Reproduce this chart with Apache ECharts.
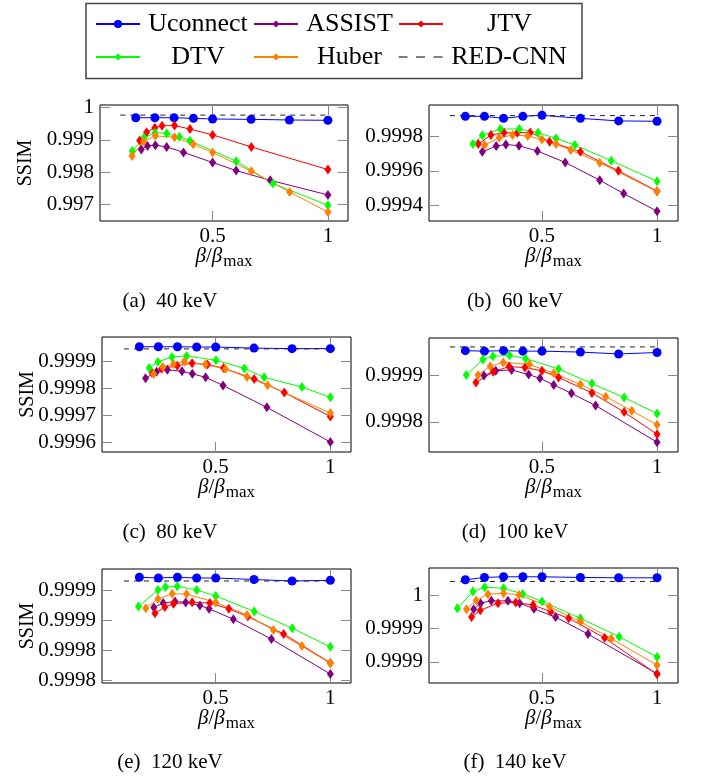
<!DOCTYPE html>
<html>
<head>
<meta charset="utf-8">
<script src="https://cdn.jsdelivr.net/npm/echarts@6/dist/echarts.min.js"></script>
<style>
  html, body { margin: 0; padding: 0; background: #fff; }
  #chart { width: 701px; height: 778px; }
</style>
</head>
<body>
<div id="chart"></div>
<script>
// ---- data ----
const xUconnect = [0.167, 0.25, 0.333, 0.417, 0.5, 0.667, 0.833, 1];
const xRedCnn = [0.1, 1];

// (a) 40 keV
const uconnect40 = [0.99968, 0.99968, 0.99968, 0.99966, 0.99964, 0.99963, 0.99961, 0.99960];
const redcnn40 = 0.99976;
const assist40 = [[0.191, 0.99870], [0.218, 0.99881], [0.252, 0.99883], [0.301, 0.99878], [0.374, 0.99861], [0.5, 0.99830], [0.602, 0.99805], [0.75, 0.99775], [1, 0.99730]];
const jtv40 = [[0.184, 0.99898], [0.214, 0.99923], [0.25, 0.99937], [0.281, 0.99943], [0.335, 0.99944], [0.402, 0.99933], [0.5, 0.99915], [0.668, 0.99878], [1, 0.99808]];
const dtv40 = [[0.152, 0.99865], [0.203, 0.99906], [0.25, 0.99922], [0.301, 0.99919], [0.356, 0.99909], [0.402, 0.99897], [0.602, 0.99834], [0.762, 0.99765], [1, 0.99698]];
const huber40 = [[0.151, 0.99850], [0.201, 0.99895], [0.252, 0.99912], [0.335, 0.99908], [0.416, 0.99886], [0.5, 0.99861], [0.668, 0.99803], [0.834, 0.99739], [1, 0.99677]];

// (b) 60 keV
const uconnect60 = [0.999919, 0.999919, 0.999907, 0.999919, 0.999925, 0.999907, 0.999892, 0.99989];
const redcnn60 = 0.999923;
const assist60 = [[0.241, 0.999712], [0.301, 0.999745], [0.343, 0.999755], [0.4, 0.999747], [0.48, 0.999716], [0.601, 0.99965], [0.751, 0.999546], [0.855, 0.999468], [1, 0.999365]];
const jtv60 = [[0.223, 0.999757], [0.278, 0.99981], [0.335, 0.999823], [0.393, 0.999823], [0.449, 0.999825], [0.533, 0.999771], [0.667, 0.999712], [0.832, 0.999601], [1, 0.999482]];
const dtv60 = [[0.2, 0.999757], [0.241, 0.999808], [0.319, 0.999845], [0.401, 0.999845], [0.483, 0.999823], [0.561, 0.99979], [0.643, 0.999751], [0.801, 0.99966], [1, 0.99954]];
const huber60 = [[0.251, 0.999751], [0.314, 0.999794], [0.372, 0.99981], [0.438, 0.999804], [0.5, 0.999784], [0.561, 0.999757], [0.625, 0.999722], [0.751, 0.999648], [1, 0.99948]];

// (c) 80 keV
const uconnect80 = [0.999954, 0.999954, 0.999954, 0.999953, 0.999953, 0.999949, 0.999947, 0.999947];
const redcnn80 = 0.999946;
const assist80 = [[0.194, 0.999838], [0.242, 0.999862], [0.289, 0.999869], [0.353, 0.999863], [0.398, 0.999854], [0.456, 0.999841], [0.532, 0.999811], [0.723, 0.99973], [1, 0.999602]];
const jtv80 = [[0.222, 0.999858], [0.264, 0.999873], [0.332, 0.999884], [0.397, 0.999893], [0.464, 0.999888], [0.534, 0.999875], [0.668, 0.999835], [0.799, 0.999785], [1, 0.999696]];
const dtv80 = [[0.21, 0.999875], [0.248, 0.999898], [0.309, 0.999916], [0.373, 0.99992], [0.501, 0.999904], [0.625, 0.999874], [0.711, 0.999841], [0.876, 0.999805], [1, 0.999767]];
const huber80 = [[0.229, 0.999853], [0.27, 0.999879], [0.316, 0.99989], [0.363, 0.999899], [0.455, 0.999888], [0.542, 0.999872], [0.636, 0.999842], [0.726, 0.999812], [1, 0.999709]];

// (d) 100 keV
const uconnect100 = [0.999952, 0.999951, 0.999952, 0.999951, 0.999951, 0.999949, 0.999945, 0.999948];
const redcnn100 = 0.99996;
const assist100 = [[0.248, 0.999899], [0.299, 0.999909], [0.368, 0.999911], [0.442, 0.999901], [0.491, 0.999893], [0.551, 0.999879], [0.628, 0.999861], [0.733, 0.999835], [1, 0.999757]];
const jtv100 = [[0.213, 0.999884], [0.288, 0.999907], [0.357, 0.999918], [0.426, 0.999916], [0.5, 0.999909], [0.572, 0.999895], [0.717, 0.999862], [0.857, 0.999821], [1, 0.999774]];
const dtv100 = [[0.171, 0.9999], [0.243, 0.999933], [0.287, 0.99994], [0.359, 0.999942], [0.429, 0.999935], [0.572, 0.999913], [0.717, 0.999882], [0.857, 0.999852], [1, 0.999818]];
const huber100 = [[0.222, 0.9999], [0.275, 0.999919], [0.332, 0.999927], [0.445, 0.999923], [0.551, 0.999904], [0.667, 0.99988], [0.777, 0.999854], [0.89, 0.999824], [1, 0.999794]];

// (e) 120 keV
const uconnect120 = [0.9998885, 0.999888, 0.9998885, 0.999888, 0.999888, 0.999887, 0.999886, 0.9998865];
const redcnn120 = 0.999886;
const assist120 = [[0.23, 0.9998684], [0.271, 0.9998713], [0.322, 0.9998724], [0.369, 0.9998717], [0.431, 0.9998697], [0.471, 0.9998675], [0.577, 0.9998605], [0.743, 0.9998473], [1, 0.999824]];
const jtv120 = [[0.235, 0.9998645], [0.278, 0.9998686], [0.316, 0.9998708], [0.397, 0.9998719], [0.474, 0.9998713], [0.557, 0.9998675], [0.64, 0.9998623], [0.796, 0.9998507], [1, 0.9998314]];
const dtv120 = [[0.163, 0.999869], [0.248, 0.99988], [0.281, 0.999882], [0.332, 0.9998825], [0.417, 0.99988], [0.5, 0.999876], [0.668, 0.9998657], [0.834, 0.9998545], [1, 0.9998421]];
const huber120 = [[0.195, 0.9998679], [0.248, 0.999874], [0.31, 0.9998775], [0.373, 0.9998773], [0.5, 0.9998717], [0.636, 0.9998634], [0.752, 0.9998533], [0.876, 0.9998426], [1, 0.999831]];

// (f) 140 keV
const uconnect140 = [0.9999695, 0.9999709, 0.9999713, 0.9999713, 0.9999713, 0.9999709, 0.9999707, 0.9999707];
const redcnn140 = 0.9999685;
const assist140 = [[0.203, 0.9999517], [0.233, 0.9999554], [0.28, 0.9999568], [0.352, 0.9999568], [0.403, 0.9999554], [0.465, 0.999952], [0.559, 0.999947], [0.7, 0.9999368], [1, 0.9999129]];
const jtv140 = [[0.194, 0.999947], [0.232, 0.9999511], [0.309, 0.9999554], [0.386, 0.9999558], [0.461, 0.9999543], [0.538, 0.9999503], [0.616, 0.9999463], [0.772, 0.9999345], [1, 0.9999125]];
const dtv140 = [[0.132, 0.9999523], [0.2, 0.9999624], [0.251, 0.999965], [0.333, 0.9999644], [0.416, 0.999961], [0.5, 0.9999564], [0.667, 0.9999463], [0.835, 0.9999352], [1, 0.999923]];
const huber140 = [[0.172, 0.9999517], [0.214, 0.999957], [0.265, 0.9999608], [0.333, 0.9999614], [0.4, 0.9999604], [0.533, 0.9999533], [0.667, 0.9999442], [0.801, 0.9999341], [1, 0.999918]];

// axis ticks and limits
const xTicks = [0.5, 1];
const yTicks40 = [0.997, 0.998, 0.999, 1];
const yTicks60 = [0.9994, 0.9996, 0.9998];
const yTicks80 = [0.9996, 0.9997, 0.9998, 0.9999];
const yTicks100 = [0.9998, 0.9999];
const yTicks120 = [0.99982, 0.99984, 0.99986, 0.99988];
const yTicks140 = [0.99992, 0.99994, 0.99996];
const yRange40 = [0.996495, 1.000072];
const yRange60 = [0.999308, 0.999985];
const yRange80 = [0.999565, 0.99999];
const yRange100 = [0.999736, 0.999979];
const yRange120 = [0.999818, 0.999894];
const yRange140 = [0.9999073, 0.9999766];
const xRangeA = [0.012, 1.087];
const xRangeL = [0.004, 1.09];
const xRangeR = [0.009, 1.091];

const captions = ['(a)  40 keV', '(b)  60 keV', '(c)  80 keV', '(d)  100 keV', '(e)  120 keV', '(f)  140 keV'];

// ---- layout ----
const FONT = 'Liberation Serif';
const COLORS = { Uconnect: '#0000ff', ASSIST: '#800080', JTV: '#ff0000', DTV: '#00ff00', Huber: '#ff8000', 'RED-CNN': '#000000' };

const panels = [
  { box: [100, 105, 248, 116], xr: xRangeA, yr: yRange40, yt: yTicks40, u: uconnect40, r: redcnn40, a: assist40, j: jtv40, d: dtv40, h: huber40, left: true },
  { box: [429, 105, 249, 116], xr: xRangeR, yr: yRange60, yt: yTicks60, u: uconnect60, r: redcnn60, a: assist60, j: jtv60, d: dtv60, h: huber60 },
  { box: [102, 337, 249, 115], xr: xRangeL, yr: yRange80, yt: yTicks80, u: uconnect80, r: redcnn80, a: assist80, j: jtv80, d: dtv80, h: huber80, left: true },
  { box: [429, 338, 249, 114], xr: xRangeR, yr: yRange100, yt: yTicks100, u: uconnect100, r: redcnn100, a: assist100, j: jtv100, d: dtv100, h: huber100 },
  { box: [102, 569, 249, 114], xr: xRangeL, yr: yRange120, yt: yTicks120, u: uconnect120, r: redcnn120, a: assist120, j: jtv120, d: dtv120, h: huber120, left: true },
  { box: [429, 568, 249, 115], xr: xRangeR, yr: yRange140, yt: yTicks140, u: uconnect140, r: redcnn140, a: assist140, j: jtv140, d: dtv140, h: huber140 },
];
const captionPos = [[170, 301], [515, 301], [170, 532], [515, 532], [170, 762], [515, 762]];

const tickStyle = { inside: true, length: 10, lineStyle: { color: '#888', width: 1 } };
const fmtY = v => String(Number(v.toFixed(4)));

const grid = [], xAxis = [], yAxis = [], series = [];

panels.forEach((p, i) => {
  grid.push({ left: p.box[0], top: p.box[1], width: p.box[2], height: p.box[3],
    show: true, borderColor: '#000', borderWidth: 1, backgroundColor: 'transparent' });

  xAxis.push({
    type: 'value', gridIndex: i, position: 'bottom', min: p.xr[0], max: p.xr[1],
    axisLine: { show: false }, splitLine: { show: false },
    axisTick: Object.assign({ customValues: xTicks }, tickStyle),
    axisLabel: { customValues: xTicks, fontFamily: FONT, fontSize: 21, color: '#000', margin: 5 },
    name: '{i|β}{t|/}{i|β}{s|max}', nameLocation: 'middle', nameGap: 22, nameMoveOverlap: false,
    nameTextStyle: { color: '#000', fontFamily: FONT, fontSize: 21,
      rich: {
        i: { fontFamily: FONT, fontStyle: 'italic', fontSize: 21, color: '#000' },
        t: { fontFamily: FONT, fontSize: 21, color: '#000' },
        s: { fontFamily: FONT, fontSize: 17, color: '#000', padding: [10, 0, 0, 1] },
      } },
  });
  xAxis.push({
    type: 'value', gridIndex: i, position: 'top', min: p.xr[0], max: p.xr[1],
    axisLine: { show: false }, splitLine: { show: false }, axisLabel: { show: false },
    axisTick: Object.assign({ customValues: xTicks }, tickStyle),
  });
  yAxis.push({
    type: 'value', gridIndex: i, position: 'left', min: p.yr[0], max: p.yr[1],
    axisLine: { show: false }, splitLine: { show: false },
    axisTick: Object.assign({ customValues: p.yt }, tickStyle),
    axisLabel: { customValues: p.yt, formatter: fmtY, fontFamily: FONT, fontSize: 21, color: '#000', margin: 6 },
    name: p.left ? 'SSIM' : '', nameLocation: 'middle', nameGap: 64, nameMoveOverlap: false,
    nameTextStyle: { color: '#000', fontFamily: FONT, fontSize: 20 },
  });
  yAxis.push({
    type: 'value', gridIndex: i, position: 'right', min: p.yr[0], max: p.yr[1],
    axisLine: { show: false }, splitLine: { show: false }, axisLabel: { show: false },
    axisTick: Object.assign({ customValues: p.yt }, tickStyle),
  });

  const xi = 2 * i, yi = 2 * i;
  const line = (name, data, extra) => Object.assign({
    name, type: 'line', xAxisIndex: xi, yAxisIndex: yi, data,
    symbol: 'diamond', symbolSize: [7, 10], showSymbol: true,
    lineStyle: { color: COLORS[name], width: 1 },
    itemStyle: { color: COLORS[name] },
    emphasis: { disabled: true }, silent: true,
  }, extra || {});

  series.push(line('Uconnect', xUconnect.map((x, k) => [x, p.u[k]]), { symbol: 'circle', symbolSize: 9 }));
  series.push(line('ASSIST', p.a));
  series.push(line('JTV', p.j));
  series.push(line('DTV', p.d));
  series.push(line('Huber', p.h));
  series.push(line('RED-CNN', xRedCnn.map(x => [x, p.r]), {
    symbol: 'none', lineStyle: { color: '#222', width: 1, type: [5, 5] },
  }));
});

const legendCells = [
  { name: 'Uconnect', left: 95, top: 11, w: 100, h: 10 },
  { name: 'ASSIST', left: 253, top: 11, w: 87, h: 9 },
  { name: 'JTV', left: 398, top: 11, w: 117, h: 9 },
  { name: 'DTV', left: 95, top: 44, w: 100, h: 9 },
  { name: 'Huber', left: 253, top: 44, w: 87, h: 9 },
  { name: 'RED-CNN', left: 398, top: 44, w: 117, h: 9, noMark: true },
];
const legend = legendCells.map(c => {
  const l = {
    data: [c.noMark ? { name: c.name, itemStyle: { opacity: 0 } } : c.name],
    left: c.left, top: c.top, padding: 0,
    itemWidth: 44, itemHeight: c.h, selectedMode: false,
    formatter: n => '{c|' + n + '}',
    textStyle: { rich: { c: { width: c.w, align: 'center', fontFamily: FONT, fontSize: 26, color: '#000', padding: [0, 0, 0, 3] } } },
  };
  if (c.noMark) l.lineStyle = { type: [9, 8.5], color: '#000', width: 1 };
  return l;
});

const graphic = [{
  type: 'rect', shape: { x: 86, y: 3.5, width: 496, height: 75 },
  style: { fill: 'none', stroke: '#444', lineWidth: 1.5 },
}].concat(captions.map((t, i) => ({
  type: 'text', x: captionPos[i][0], y: captionPos[i][1],
  style: { text: t, fontFamily: FONT, fontSize: 21, fill: '#000', align: 'center', verticalAlign: 'middle' },
})));

const chart = echarts.init(document.getElementById('chart'), null, { renderer: 'canvas' });
chart.setOption({
  animation: false,
  backgroundColor: '#fff',
  grid, xAxis, yAxis, series, legend, graphic,
});
</script>
</body>
</html>
